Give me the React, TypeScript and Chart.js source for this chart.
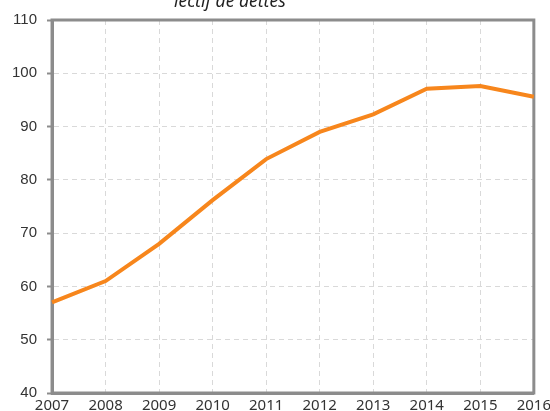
import React, { useEffect, useRef } from "react";
import { Chart, registerables } from "chart.js";

Chart.register(...registerables);

const years = ["2007", "2008", "2009", "2010", "2011", "2012", "2013", "2014", "2015", "2016"];
const values = [57.0, 61.0, 68.0, 76.2, 83.9, 89.0, 92.3, 97.1, 97.6, 95.6];
const yTicks = [40, 50, 60, 70, 80, 90, 100, 110];
const titleText = "lectif de dettes";

const AXIS = "#8c8c8c";
const GRID = "#d9d9d9";
const ORANGE = "#f7861c";

const framePlugin = {
  id: "frame",
  beforeDatasetsDraw(chart: any) {
    const { ctx, chartArea } = chart;
    ctx.save();
    ctx.strokeStyle = AXIS;
    ctx.lineWidth = 3;
    ctx.strokeRect(chartArea.left, chartArea.top, chartArea.right - chartArea.left, chartArea.bottom - chartArea.top);
    ctx.restore();
  },
  afterDraw(chart: any) {
    const { ctx, chartArea } = chart;
    ctx.save();
    ctx.font = "italic 17.5px 'Noto Sans'";
    ctx.fillStyle = "#222";
    ctx.textAlign = "center";
    ctx.textBaseline = "alphabetic";
    const cx = chartArea.left + (chartArea.right - chartArea.left) * 0.369;
    ctx.fillText(titleText, cx, chartArea.top - 13.3);
    ctx.restore();
  },
};

export default function App() {
  const ref = useRef<HTMLCanvasElement>(null);
  useEffect(() => {
    if (!ref.current) return;
    const chart = new Chart(ref.current, {
      type: "line",
      data: {
        labels: years,
        datasets: [
          {
            data: values,
            borderColor: ORANGE,
            borderWidth: 4,
            pointRadius: 0,
            tension: 0,
            fill: false,
          },
        ],
      },
      plugins: [framePlugin],
      options: {
        responsive: false,
        animation: false,
        layout: { padding: { top: 20, left: 2, right: 0, bottom: 0 } },
        plugins: { legend: { display: false }, title: { display: false }, tooltip: { enabled: false } },
        scales: {
          x: {
            offset: false,
            grid: {
              color: GRID,
              lineWidth: 1,
              drawTicks: false,
            },
            border: { display: true, color: AXIS, width: 3, dash: [5, 4] },
            ticks: {
              color: "#333",
              font: { family: "'Noto Sans'", size: 15, lineHeight: 1 },
              padding: 5,
              maxRotation: 0,
              autoSkip: false,
            },
          },
          y: {
            min: 40,
            max: 110,
            afterBuildTicks: (scale: any) => {
              scale.ticks = yTicks.map((v) => ({ value: v }));
            },
            grid: {
              color: GRID,
              lineWidth: 1,
              tickColor: AXIS,
              tickWidth: 2,
              tickBorderDash: [],
              tickLength: 5,
            },
            border: { display: true, color: AXIS, width: 3, dash: [5, 4] },
            ticks: {
              color: "#333",
              font: { family: "'Liberation Sans'", size: 15 },
              padding: 10,
            },
          },
        },
      },
    });
    return () => chart.destroy();
  }, []);
  return (
    <div style={{ position: "fixed", left: 0, top: 0, width: 550, height: 411, overflow: "hidden", background: "#fff" }}>
      <canvas ref={ref} width={556} height={418} style={{ display: "block" }} />
    </div>
  );
}
